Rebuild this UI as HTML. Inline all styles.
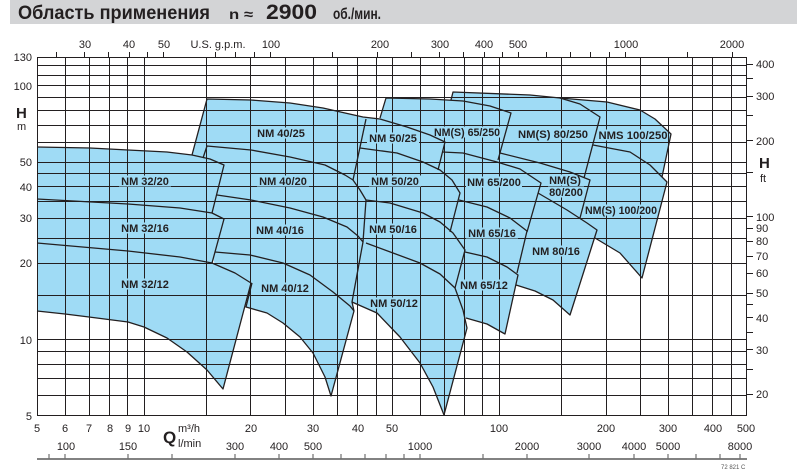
<!DOCTYPE html>
<html>
<head>
<meta charset="utf-8">
<style>
html,body{margin:0;padding:0;background:#fff;}
svg{display:block;}
</style>
</head>
<body>
<svg xmlns="http://www.w3.org/2000/svg" width="797" height="470" viewBox="0 0 797 470" font-family="'Liberation Sans', Arial, sans-serif">
<!-- title bar -->
<rect x="10" y="0" width="787" height="24" fill="#d3d4d6"/>
<g fill="#231f20" font-weight="bold">
<text x="18" y="19" font-size="19" textLength="192" lengthAdjust="spacingAndGlyphs">Область применения</text>
<text x="229" y="19" font-size="14" textLength="24" lengthAdjust="spacingAndGlyphs">n ≈</text>
<text x="266" y="19" font-size="21" textLength="51" lengthAdjust="spacingAndGlyphs">2900</text>
<text x="333" y="19" font-size="16" textLength="48" lengthAdjust="spacingAndGlyphs">об./мин.</text>
</g>

<!-- region fills -->
<g fill="#9fdbf5" stroke="none">
<polygon points="560,98 607,102 640,110 655,119 671,134 662,177 667,182 642,278 620,253 595,238 578,215 575,150"/>
<polygon points="453,92 530,95 560,98 580,104 600,117 584,178 590,180 580,218 587,223 597,230 570,315 553,300 535,291 516,285 480,200 450,100"/>
<polygon points="386,98 430,99 463,101 490,106 511,113 498,160 497,162 520,169 541,183 527,232 517,273 518,275 505,334 487,324 466,318 440,300 430,200 380,118"/>
<polygon points="360,117 380,119 407,127 430,135 445,142 438,170 440,170 452,180 460,193 450,232 453,233 465,250 455,288 463,310 467,328 444,415 433,387 420,363 400,337 377,313 352,302 345,250 345,150 353,125"/>
<polygon points="207,99 251,100 290,103 323,108 345,113 363,117 366,119 353,180 360,190 366,200 363,242 352,302 354,311 331,396 325,377 313,353 300,337 283,323 267,313 246,307 252,283 215,266 205,220 200,160 192,155"/>
<polygon points="37,147 90,148 128,150 167,152 192,155 210,159 224,165 212,213 224,219 212,263 235,273 251,283 223,389 207,370 187,352 167,338 144,327 128,322 89,317 65,314 37,311"/>
</g>

<!-- grid -->
<g stroke="#231f20" stroke-width="1" fill="none">
<!-- horizontal -->
<line x1="37" y1="57.5" x2="747" y2="57.5"/>
<line x1="37" y1="65.5" x2="747" y2="65.5"/>
<line x1="37" y1="75.5" x2="747" y2="75.5"/>
<line x1="37" y1="85.5" x2="747" y2="85.5"/>
<line x1="37" y1="97.5" x2="747" y2="97.5"/>
<line x1="37" y1="110.5" x2="747" y2="110.5"/>
<line x1="37" y1="125.5" x2="747" y2="125.5"/>
<line x1="37" y1="142.5" x2="747" y2="142.5"/>
<line x1="37" y1="162.5" x2="747" y2="162.5"/>
<line x1="37" y1="173.5" x2="747" y2="173.5"/>
<line x1="37" y1="186.5" x2="747" y2="186.5"/>
<line x1="37" y1="201.5" x2="747" y2="201.5"/>
<line x1="37" y1="218.5" x2="747" y2="218.5"/>
<line x1="37" y1="238.5" x2="747" y2="238.5"/>
<line x1="37" y1="263.5" x2="747" y2="263.5"/>
<line x1="37" y1="295.5" x2="747" y2="295.5"/>
<line x1="37" y1="339.5" x2="747" y2="339.5"/>
<line x1="37" y1="351.5" x2="747" y2="351.5"/>
<line x1="37" y1="364.5" x2="747" y2="364.5"/>
<line x1="37" y1="378.5" x2="747" y2="378.5"/>
<line x1="37" y1="395.5" x2="747" y2="395.5"/>
<line x1="37" y1="415.5" x2="747" y2="415.5"/>
<!-- vertical -->
<line x1="37.5" y1="57" x2="37.5" y2="416"/>
<line x1="65.5" y1="57" x2="65.5" y2="416"/>
<line x1="89.5" y1="57" x2="89.5" y2="416"/>
<line x1="109.5" y1="57" x2="109.5" y2="416"/>
<line x1="127.5" y1="57" x2="127.5" y2="416"/>
<line x1="144.5" y1="57" x2="144.5" y2="416"/>
<line x1="206.5" y1="57" x2="206.5" y2="416"/>
<line x1="250.5" y1="57" x2="250.5" y2="416"/>
<line x1="285.5" y1="57" x2="285.5" y2="416"/>
<line x1="313.5" y1="57" x2="313.5" y2="416"/>
<line x1="337.5" y1="57" x2="337.5" y2="416"/>
<line x1="357.5" y1="57" x2="357.5" y2="416"/>
<line x1="376.5" y1="57" x2="376.5" y2="416"/>
<line x1="392.5" y1="57" x2="392.5" y2="416"/>
<line x1="420.5" y1="57" x2="420.5" y2="416"/>
<line x1="444.5" y1="57" x2="444.5" y2="416"/>
<line x1="464.5" y1="57" x2="464.5" y2="416"/>
<line x1="482.5" y1="57" x2="482.5" y2="416"/>
<line x1="499.5" y1="57" x2="499.5" y2="416"/>
<line x1="561.5" y1="57" x2="561.5" y2="416"/>
<line x1="606.5" y1="57" x2="606.5" y2="416"/>
<line x1="640.5" y1="57" x2="640.5" y2="416"/>
<line x1="668.5" y1="57" x2="668.5" y2="416"/>
<line x1="692.5" y1="57" x2="692.5" y2="416"/>
<line x1="712.5" y1="57" x2="712.5" y2="416"/>
<line x1="731.5" y1="57" x2="731.5" y2="416"/>
<line x1="746.5" y1="57" x2="746.5" y2="416"/>
<!-- top gpm ticks -->
<line x1="56.5" y1="52" x2="56.5" y2="57"/>
<line x1="84.5" y1="52" x2="84.5" y2="57"/>
<line x1="108.5" y1="52" x2="108.5" y2="57"/>
<line x1="129.5" y1="52" x2="129.5" y2="57"/>
<line x1="147.5" y1="52" x2="147.5" y2="57"/>
<line x1="163.5" y1="52" x2="163.5" y2="57"/>
<line x1="215.5" y1="52" x2="215.5" y2="57"/>
<line x1="235.5" y1="52" x2="235.5" y2="57"/>
<line x1="254.5" y1="52" x2="254.5" y2="57"/>
<line x1="270.5" y1="52" x2="270.5" y2="57"/>
<line x1="332.5" y1="52" x2="332.5" y2="57"/>
<line x1="377.5" y1="52" x2="377.5" y2="57"/>
<line x1="411.5" y1="52" x2="411.5" y2="57"/>
<line x1="439.5" y1="52" x2="439.5" y2="57"/>
<line x1="463.5" y1="52" x2="463.5" y2="57"/>
<line x1="484.5" y1="52" x2="484.5" y2="57"/>
<line x1="502.5" y1="52" x2="502.5" y2="57"/>
<line x1="518.5" y1="52" x2="518.5" y2="57"/>
<line x1="546.5" y1="52" x2="546.5" y2="57"/>
<line x1="570.5" y1="52" x2="570.5" y2="57"/>
<line x1="590.5" y1="52" x2="590.5" y2="57"/>
<line x1="609.5" y1="52" x2="609.5" y2="57"/>
<line x1="625.5" y1="52" x2="625.5" y2="57"/>
<line x1="687.5" y1="52" x2="687.5" y2="57"/>
<line x1="732.5" y1="52" x2="732.5" y2="57"/>
<!-- right ft ticks -->
<line x1="747" y1="64.5" x2="753" y2="64.5"/>
<line x1="747" y1="78.5" x2="753" y2="78.5"/>
<line x1="747" y1="96.5" x2="753" y2="96.5"/>
<line x1="747" y1="115.5" x2="753" y2="115.5"/>
<line x1="747" y1="140.5" x2="753" y2="140.5"/>
<line x1="747" y1="172.5" x2="753" y2="172.5"/>
<line x1="747" y1="216.5" x2="753" y2="216.5"/>
<line x1="747" y1="228.5" x2="753" y2="228.5"/>
<line x1="747" y1="241.5" x2="753" y2="241.5"/>
<line x1="747" y1="256.5" x2="753" y2="256.5"/>
<line x1="747" y1="273.5" x2="753" y2="273.5"/>
<line x1="747" y1="293.5" x2="753" y2="293.5"/>
<line x1="747" y1="304.5" x2="753" y2="304.5"/>
<line x1="747" y1="317.5" x2="753" y2="317.5"/>
<line x1="747" y1="332.5" x2="753" y2="332.5"/>
<line x1="747" y1="349.5" x2="753" y2="349.5"/>
<line x1="747" y1="369.5" x2="753" y2="369.5"/>
<line x1="747" y1="394.5" x2="753" y2="394.5"/>
</g>

<!-- bottom l/min axis -->
<g stroke="#707070" fill="none">
<line x1="37" y1="459" x2="747" y2="459" stroke-width="1.8"/>
<g stroke-width="1.2">
<line x1="49" y1="454" x2="49" y2="459"/>
<line x1="65" y1="454" x2="65" y2="459"/>
<line x1="128" y1="454" x2="128" y2="459"/>
<line x1="172" y1="454" x2="172" y2="459"/>
<line x1="235" y1="454" x2="235" y2="459"/>
<line x1="279" y1="454" x2="279" y2="459"/>
<line x1="313" y1="454" x2="313" y2="459"/>
<line x1="341" y1="454" x2="341" y2="459"/>
<line x1="365" y1="454" x2="365" y2="459"/>
<line x1="386" y1="454" x2="386" y2="459"/>
<line x1="404" y1="454" x2="404" y2="459"/>
<line x1="420" y1="454" x2="420" y2="459"/>
<line x1="483" y1="454" x2="483" y2="459"/>
<line x1="527" y1="454" x2="527" y2="459"/>
<line x1="589" y1="454" x2="589" y2="459"/>
<line x1="634" y1="454" x2="634" y2="459"/>
<line x1="668" y1="454" x2="668" y2="459"/>
<line x1="696" y1="454" x2="696" y2="459"/>
<line x1="720" y1="454" x2="720" y2="459"/>
<line x1="740" y1="454" x2="740" y2="459"/>
</g>
</g>

<!-- label backgrounds -->
<g fill="#9fdbf5">
<rect x="119" y="175.5" width="52" height="11"/>
<rect x="119" y="222.5" width="52" height="11"/>
<rect x="119" y="278.5" width="52" height="11"/>
<rect x="255" y="127.5" width="52" height="11"/>
<rect x="257" y="175.5" width="52" height="11"/>
<rect x="254" y="224.5" width="52" height="11"/>
<rect x="259" y="282.5" width="52" height="11"/>
<rect x="367" y="132.5" width="52" height="11"/>
<rect x="369" y="175.5" width="52" height="11"/>
<rect x="367" y="223.5" width="52" height="11"/>
<rect x="368" y="297.5" width="52" height="11"/>
<rect x="432" y="126.5" width="70" height="11"/>
<rect x="518" y="128.5" width="70" height="11"/>
<rect x="599" y="129.5" width="68" height="11"/>
<rect x="466" y="176.5" width="56" height="11"/>
<rect x="548" y="174.5" width="35" height="11"/>
<rect x="548" y="186.5" width="36" height="11"/>
<rect x="583" y="204.5" width="76" height="11"/>
<rect x="466" y="227.5" width="52" height="11"/>
<rect x="530" y="245.5" width="52" height="11"/>
<rect x="458" y="279.5" width="52" height="11"/>
</g>

<!-- region outlines -->
<g fill="none" stroke="#231f20" stroke-width="1.3" stroke-linejoin="round">
<polyline points="37,147 90,148 128,150 167,152 192,155 210,159 224,165 212,213"/>
<polyline points="37,199 128,204 180,208 212,213 224,219 212,263"/>
<polyline points="37,243 128,251 180,257 212,263 235,273 251,283 223,389 207,370 187,352 167,338 144,327 128,322 89,317 65,314 37,311"/>
<polyline points="192,155 207,99 251,100 290,103 323,108 345,113 363,117 380,119 407,127 430,135 445,142 438,170"/>
<polyline points="366,119 353,180"/>
<polyline points="203,158 207,146 251,150 290,157 325,165 345,175 353,180 360,190 366,200 363,242 352,302 354,311 331,396 325,377 313,353 300,337 283,323 267,313 246,307 252,283"/>
<polyline points="217,195 251,200 290,208 323,217 347,227 358,236 363,242"/>
<polyline points="215,252 250,255 283,263 310,275 333,292 350,306 354,311"/>
<polyline points="360,148 397,153 423,162 440,170 452,180 460,193 450,232"/>
<polyline points="366,200 390,203 423,213 440,222 453,233 465,250 455,288"/>
<polyline points="366,243 393,253 420,263 440,274 455,288 463,310 467,328 444,415 433,387 420,363 400,337 377,313 352,302"/>
<polyline points="380,118 386,98 430,99 463,101 490,106 511,113 498,160"/>
<polyline points="442,152 463,153 497,162 520,169 541,183 527,232"/>
<polyline points="459,200 487,207 510,218 527,231 517,273"/>
<polyline points="465,252 487,257 507,267 518,275 505,334 487,324 466,318"/>
<polyline points="451,100 453,92 530,95 560,98 607,102 640,110 655,119 671,134 662,177"/>
<polyline points="560,98 580,104 600,117 584,178"/>
<polyline points="500,153 540,163 570,172 590,180 580,218"/>
<polyline points="538,193 567,210 587,223 597,230 570,315 553,300 535,291 516,285"/>
<polyline points="593,145 630,152 650,165 667,182 642,278 620,253 595,238"/>
</g>

<!-- region labels -->
<g fill="#231f20" font-size="11" font-weight="bold" text-anchor="middle">
<text x="145" y="185">NM 32/20</text>
<text x="145" y="232">NM 32/16</text>
<text x="145" y="288">NM 32/12</text>
<text x="281" y="137">NM 40/25</text>
<text x="283" y="185">NM 40/20</text>
<text x="280" y="234">NM 40/16</text>
<text x="285" y="292">NM 40/12</text>
<text x="393" y="142">NM 50/25</text>
<text x="395" y="185">NM 50/20</text>
<text x="393" y="233">NM 50/16</text>
<text x="394" y="307">NM 50/12</text>
<text x="467" y="136" textLength="66" lengthAdjust="spacingAndGlyphs">NM(S) 65/250</text>
<text x="553" y="138" textLength="70" lengthAdjust="spacingAndGlyphs">NM(S) 80/250</text>
<text x="633" y="139" textLength="69" lengthAdjust="spacingAndGlyphs">NMS 100/250</text>
<text x="494" y="186">NM 65/200</text>
<text x="565" y="184">NM(S)</text>
<text x="566" y="196">80/200</text>
<text x="621" y="214" textLength="72" lengthAdjust="spacingAndGlyphs">NM(S) 100/200</text>
<text x="492" y="237">NM 65/16</text>
<text x="556" y="255">NM 80/16</text>
<text x="484" y="289">NM 65/12</text>
</g>

<!-- axis labels -->
<g fill="#231f20" font-size="11">
<!-- left H (m) -->
<g text-anchor="end">
<text x="32" y="61">130</text>
<text x="32" y="90">100</text>
<text x="32" y="166">50</text>
<text x="32" y="191">40</text>
<text x="32" y="222">30</text>
<text x="32" y="267">20</text>
<text x="32" y="344">10</text>
<text x="32" y="420">5</text>
</g>
<text x="16" y="118" font-size="15" font-weight="bold">H</text>
<text x="17" y="130">m</text>
<!-- right H (ft) -->
<text x="756" y="68">400</text>
<text x="756" y="100">300</text>
<text x="756" y="145">200</text>
<text x="756" y="221">100</text>
<text x="756" y="232">90</text>
<text x="756" y="245">80</text>
<text x="756" y="260">70</text>
<text x="756" y="277">60</text>
<text x="756" y="297">50</text>
<text x="756" y="322">40</text>
<text x="756" y="354">30</text>
<text x="756" y="398">20</text>
<text x="759" y="168" font-size="15" font-weight="bold">H</text>
<text x="760" y="182">ft</text>
<!-- top gpm -->
<g text-anchor="middle">
<text x="85" y="48">30</text>
<text x="129" y="48">40</text>
<text x="164" y="48">50</text>
<text x="218" y="48">U.S. g.p.m.</text>
<text x="271" y="48">100</text>
<text x="380" y="48">200</text>
<text x="440" y="48">300</text>
<text x="484" y="48">400</text>
<text x="518" y="48">500</text>
<text x="626" y="48">1000</text>
<text x="732" y="48">2000</text>
</g>
<!-- bottom m3/h -->
<g text-anchor="middle">
<text x="37" y="432">5</text>
<text x="65" y="432">6</text>
<text x="89" y="432">7</text>
<text x="110" y="432">8</text>
<text x="128" y="432">9</text>
<text x="144" y="432">10</text>
<text x="251" y="432">20</text>
<text x="313" y="432">30</text>
<text x="358" y="432">40</text>
<text x="392" y="432">50</text>
<text x="499" y="432">100</text>
<text x="606" y="432">200</text>
<text x="668" y="432">300</text>
<text x="713" y="432">400</text>
<text x="746" y="432">500</text>
</g>
<text x="163" y="443" font-size="17" font-weight="bold">Q</text>
<text x="178" y="432">m³/h</text>
<text x="178" y="447">l/min</text>
<!-- bottom l/min -->
<g text-anchor="middle">
<text x="66" y="450">100</text>
<text x="128" y="450">150</text>
<text x="235" y="450">300</text>
<text x="279" y="450">400</text>
<text x="313" y="450">500</text>
<text x="420" y="450">1000</text>
<text x="527" y="450">2000</text>
<text x="589" y="450">3000</text>
<text x="634" y="450">4000</text>
<text x="668" y="450">5000</text>
<text x="740" y="450">8000</text>
</g>
</g>
<text x="721" y="469" font-size="6" fill="#555">72 821 C</text>
</svg>
</body>
</html>
